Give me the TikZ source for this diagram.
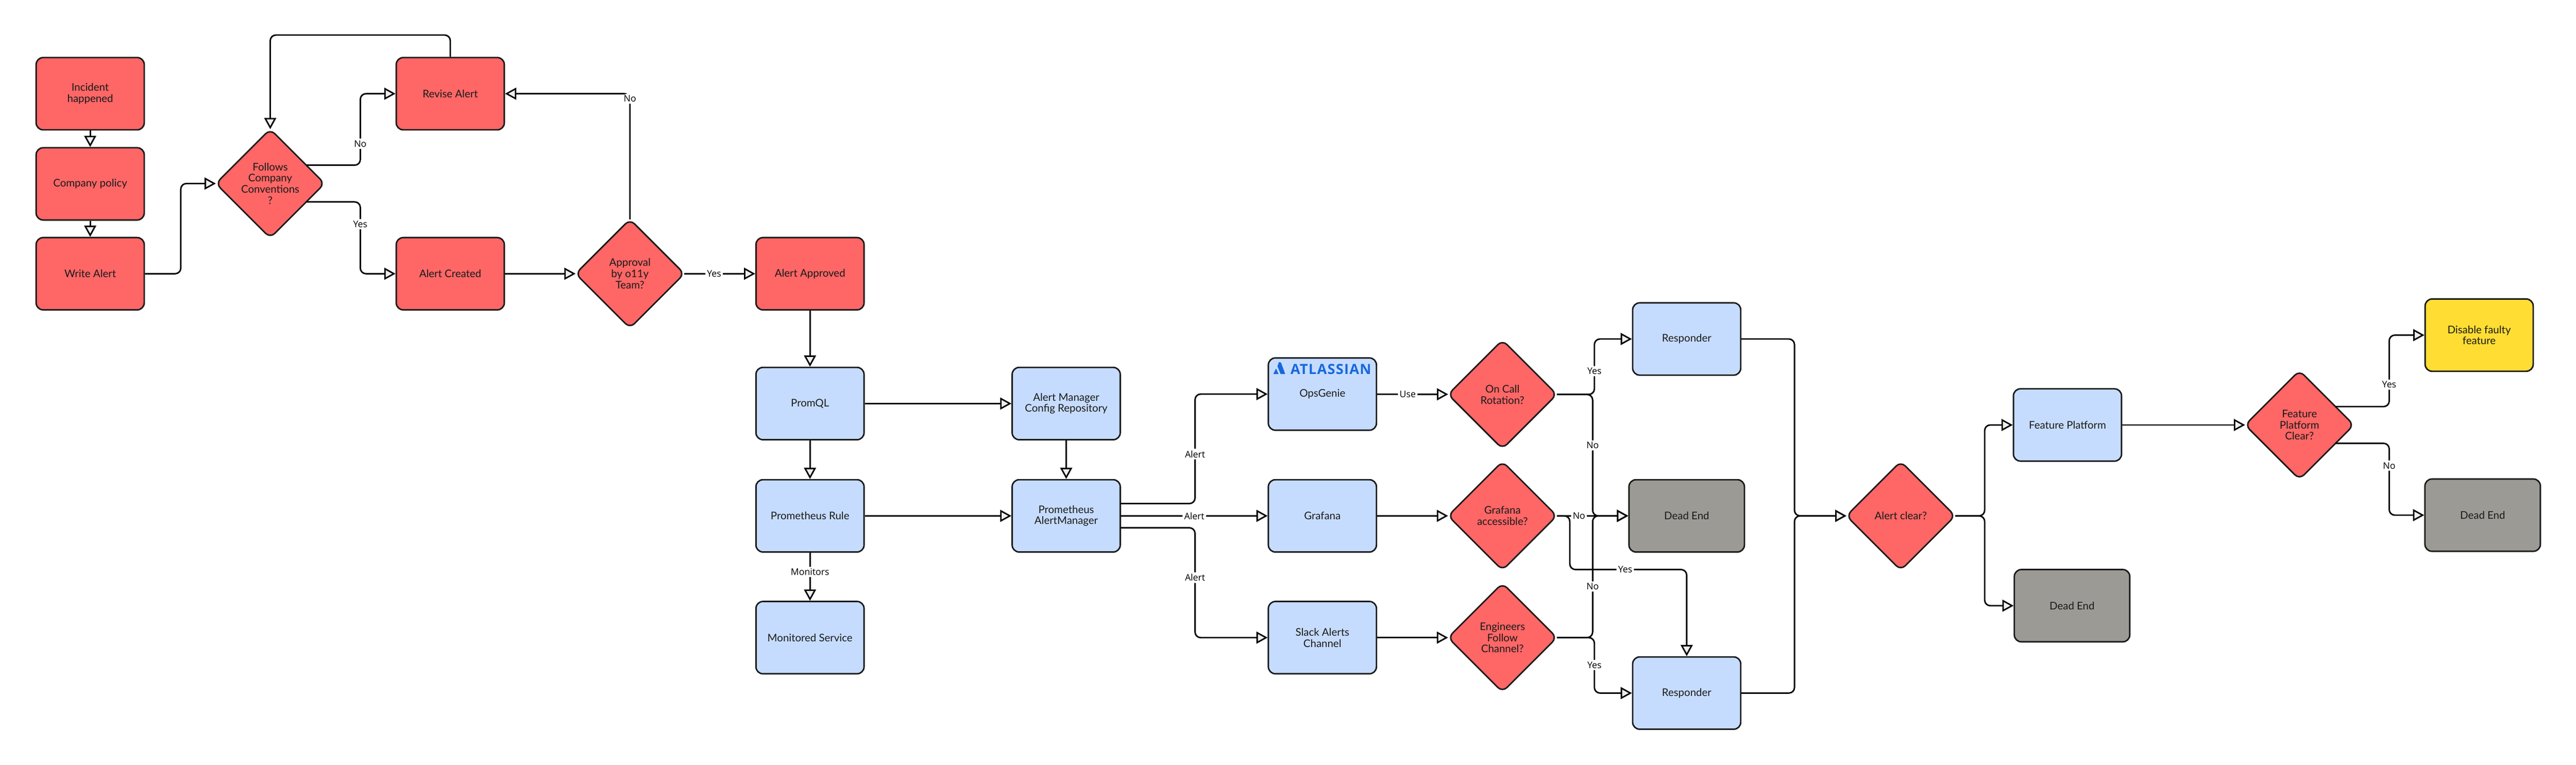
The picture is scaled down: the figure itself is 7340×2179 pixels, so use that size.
\documentclass[tikz,border=0pt]{standalone}
\usepackage{fontspec}
\setmainfont{Lato}
\newfontfamily\labelfont{Open Sans}
\newfontfamily\logofont[LetterSpace=4.5]{Open Sans}
\usetikzlibrary{shapes}
\usetikzlibrary{arrows.meta}

\definecolor{alertred}{HTML}{FF6666}
\definecolor{infoblue}{HTML}{C6DCFF}
\definecolor{deadgrey}{HTML}{9B9A94}
\definecolor{actionyellow}{HTML}{FFDD33}
\definecolor{inkblack}{HTML}{1A1A1A}
\definecolor{tipgrey}{HTML}{EEEEEE}
\definecolor{logoblue}{HTML}{1868DB}

\tikzset{
	box/.style={draw=inkblack, line width=4.2, rounded corners=20, align=center, inner sep=0,
			minimum width=308, minimum height=206, text=inkblack,
			font=\fontsize{30}{32}\selectfont},
	alertbox/.style={box, fill=alertred},
	infobox/.style={box, fill=infoblue},
	deadbox/.style={box, fill=deadgrey, minimum width=329},
	actionbox/.style={box, fill=actionyellow},
	decision/.style={diamond, draw=inkblack, line width=4.2, fill=alertred, rounded corners=18,
			aspect=1, inner sep=0, outer sep=0, minimum width=310, minimum height=310},
	decisiontext/.style={align=center, text=inkblack, font=\fontsize{30}{32}\selectfont},
	flow/.style={draw=black, line width=4.2, rounded corners=16,
			-{Triangle[length=32, width=34, fill=tipgrey]}},
	edgelabel/.style={fill=white, inner sep=5, text=black, font=\labelfont\fontsize{26}{28}\selectfont}
}

\begin{document}
\begin{tikzpicture}[x=1pt, y=-1pt]
	\useasboundingbox (0, 0) rectangle (7340, 2179);

	% writing the alert
	\node[alertbox] (incident) at (257, 267) {Incident\\happened};
	\node[alertbox] (policy) at (257, 524) {Company policy};
	\node[alertbox] (write) at (257, 780) {Write Alert};
	\node[decision, label={[decisiontext]center:Follows\\Company\\Conventions\\?}] (follows) at (770, 523) {};
	\node[alertbox] (revise) at (1283, 267) {Revise Alert};
	\node[alertbox] (created) at (1283, 780) {Alert Created};
	\node[decision, label={[decisiontext]center:Approval\\by o11y\\Team?}] (approval) at (1795, 780) {};
	\node[alertbox] (approved) at (2308, 780) {Alert Approved};

	% prometheus
	\node[infobox] (promql) at (2308, 1150) {PromQL};
	\node[infobox] (rule) at (2308, 1470) {Prometheus Rule};
	\node[infobox] (monitored) at (2308, 1817) {Monitored Service};
	\node[infobox] (config) at (3038, 1150) {Alert Manager\\Config Repository};
	\node[infobox] (manager) at (3038, 1470) {Prometheus\\AlertManager};

	% channels
	\node[infobox] (opsgenie) at (3768, 1123) {OpsGenie};
	\node[infobox] (grafana) at (3768, 1470) {Grafana};
	\node[infobox] (slack) at (3768, 1817) {Slack Alerts\\Channel};
	\fill[logoblue] (3644, 1032) -- (3650, 1033) -- (3662, 1066) -- (3649, 1066) -- (3640, 1044) -- cycle;
	\fill[logoblue] (3628, 1066) -- (3636, 1050) -- (3643, 1066) -- cycle;
	\node[text=logoblue, inner sep=0, font=\logofont\bfseries\fontsize{40}{44}\selectfont] (logo) at (3792, 1052) {ATLASSIAN};

	\node[decision, label={[decisiontext]center:On Call\\Rotation?}] (oncall) at (4281, 1124) {};
	\node[decision, label={[decisiontext]center:Grafana\\accessible?}] (access) at (4281, 1470) {};
	\node[decision, label={[decisiontext]center:Engineers\\Follow\\Channel?}] (engineers) at (4281, 1817) {};
	\node[infobox] (responderA) at (4806, 966) {Responder};
	\node[deadbox] (deadA) at (4806, 1470) {Dead End};
	\node[infobox] (responderB) at (4806, 1975) {Responder};

	% end of the flow
	\node[decision, label={[decisiontext]center:Alert clear?}] (clear) at (5416, 1470) {};
	\node[infobox] (platform) at (5891, 1211) {Feature Platform};
	\node[deadbox] (deadB) at (5904, 1726) {Dead End};
	\node[decision, label={[decisiontext]center:Feature\\Platform\\Clear?}] (platformclear) at (6552, 1211) {};
	\node[actionbox] (disable) at (7064, 955) {Disable faulty\\feature};
	\node[deadbox] (deadC) at (7074, 1468) {Dead End};

	\draw[flow] (incident) -- (policy);
	\draw[flow] (policy) -- (write);
	\draw[flow] (write.east) -- ++(102, 0) |- (follows.west);
	\draw[flow] (follows.27) -- ++(154, 0) |- node[edgelabel, pos=.15] {No} (revise.west);
	\draw[flow] (follows.-27) -- ++(154, 0) |- node[edgelabel, pos=.155] {Yes} (created.west);
	\draw[flow] (revise.north) -- ++(0, -62) -| (follows.north);
	\draw[flow] (created) -- (approval);
	\draw[flow] (approval.north) |- node[edgelabel, pos=.48] {No} (revise.east);
	\draw[flow] (approval) -- node[edgelabel, pos=.42] {Yes} (approved);

	\draw[flow] (approved) -- (promql);
	\draw[flow] (promql) -- (rule);
	\draw[flow] (promql) -- (config);
	\draw[flow] (config) -- (manager);
	\draw[flow] (rule) -- (manager);
	\draw[flow] (rule) -- node[edgelabel, pos=.4] {Monitors} (monitored);

	\draw[flow] ([yshift=35pt]manager.east) -- ++(211, 0) |- node[edgelabel, pos=.226] {Alert} (opsgenie.west);
	\draw[flow] (manager) -- node[edgelabel] {Alert} (grafana);
	\draw[flow] ([yshift=-34pt]manager.east) -- ++(211, 0) |- node[edgelabel, pos=.227] {Alert} (slack.west);

	\draw[flow] (opsgenie) -- node[edgelabel, pos=.43] {Use} (oncall);
	\draw[flow] (grafana) -- (access);
	\draw[flow] (slack) -- (engineers);

	\draw[flow] (oncall.east) -- ++(107, 0) |- node[edgelabel, pos=.21] {Yes} (responderA.west);
	\draw[flow] (oncall.east) -- ++(102, 0) |- node[edgelabel, pos=.21] {No} (deadA.west);
	\draw[flow] (access.east) -- ++(37, 0) -- ++(0, 153) -| node[edgelabel, pos=.237] {Yes} (responderB.north);
	\draw[flow] (access) -- node[edgelabel, pos=.31] {No} (deadA);
	\draw[flow] (engineers.east) -- ++(102, 0) |- node[edgelabel, pos=.21] {No} (deadA.west);
	\draw[flow] (engineers.east) -- ++(107, 0) |- node[edgelabel, pos=.247] {Yes} (responderB.west);

	\draw[flow] (responderA.east) -- ++(151, 0) |- (clear.west);
	\draw[flow] (responderB.east) -- ++(151, 0) |- (clear.west);
	\draw[flow] (clear.east) -- ++(84, 0) |- (platform.west);
	\draw[flow] (clear.east) -- ++(84, 0) |- (deadB.west);
	\draw[flow] (platform) -- (platformclear);
	\draw[flow] (platformclear.27) -- ++(153, 0) |- node[edgelabel, pos=.154] {Yes} (disable.west);
	\draw[flow] (platformclear.-27) -- ++(153, 0) |- node[edgelabel, pos=.155] {No} (deadC.west);
\end{tikzpicture}
\end{document}
